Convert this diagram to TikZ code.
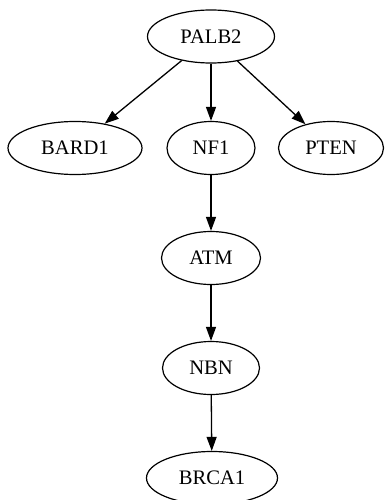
\documentclass[tikz,border=0pt]{standalone}
\usepackage{fontspec}
\setmainfont{Liberation Serif}
\usetikzlibrary{shapes.geometric,arrows.meta}
\begin{document}
\begin{tikzpicture}[x=1pt,y=-1pt,
  gene/.style={ellipse,draw=black,line width=1.2pt,inner sep=0pt,
    minimum height=53pt,font=\fontsize{20.6}{24}\selectfont},
  link/.style={draw=black,line width=1.3pt,-{Triangle[length=14pt,width=10pt]}}]
  \useasboundingbox (0,0) rectangle (384,500);
  % gene nodes
  \node[gene,minimum width=127pt] (palb2) at (211,36.5) {PALB2};
  \node[gene,minimum width=134pt] (bard1) at (75,148) {BARD1};
  \node[gene,minimum width=88pt]  (nf1)   at (211,148) {NF1};
  \node[gene,minimum width=105pt] (pten)  at (331,148) {PTEN};
  \node[gene,minimum width=99pt]  (atm)   at (211,258) {ATM};
  \node[gene,minimum width=97pt]  (nbn)   at (211,368) {NBN};
  \node[gene,minimum width=131pt] (brca1) at (212,478) {BRCA1};
  % interactions
  \draw[link] (palb2) -- (bard1);
  \draw[link] (palb2) -- (nf1);
  \draw[link] (palb2) -- (pten);
  \draw[link] (nf1) -- (atm);
  \draw[link] (atm) -- (nbn);
  \draw[link] (nbn) -- (brca1);
\end{tikzpicture}
\end{document}
